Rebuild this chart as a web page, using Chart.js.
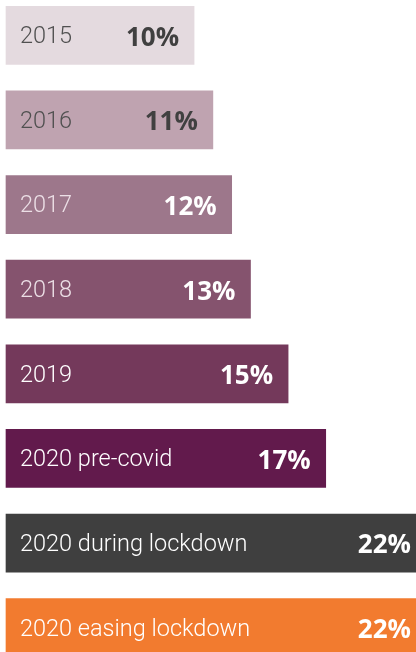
<!DOCTYPE html>
<html>
<head>
<meta charset="utf-8">
<script src="https://cdn.jsdelivr.net/npm/chart.js@4/dist/chart.umd.min.js"></script>
<style>
  html, body { margin: 0; padding: 0; background: #ffffff; overflow: hidden; }
  #wrap { position: relative; width: 416px; height: 652px; overflow: hidden; }
  #c { position: absolute; left: 0; top: -7px; }
</style>
</head>
<body>
<div id="wrap"><canvas id="c" width="416" height="677"></canvas></div>
<script>
const categories = ["2015", "2016", "2017", "2018", "2019", "2020 pre-covid", "2020 during lockdown", "2020 easing lockdown"];
const values = [10, 11, 12, 13, 15, 17, 22, 22];
const valueLabels = ["10%", "11%", "12%", "13%", "15%", "17%", "22%", "22%"];
const barColors = ["#e4dadf", "#bfa3b0", "#9d778b", "#85536e", "#74395b", "#621a4c", "#3f3f3f", "#f27b2f"];
const categoryTextColors = ["#505050", "#505050", "#ecdfe6", "#ecdfe6", "#ffffff", "#ffffff", "#ffffff", "#ffffff"];
const valueTextColors = ["#404040", "#404040", "#ffffff", "#ffffff", "#ffffff", "#ffffff", "#ffffff", "#ffffff"];

const labelPlugin = {
  id: 'barLabels',
  afterDatasetsDraw(chart) {
    const ctx = chart.ctx;
    const xs = chart.scales.x;
    const ys = chart.scales.y;
    const area = chart.chartArea;
    ctx.save();
    ctx.textBaseline = 'middle';
    categories.forEach((cat, i) => {
      const y = ys.getPixelForValue(i);
      ctx.font = '300 23.5px Roboto, "Liberation Sans", sans-serif';
      ctx.fillStyle = categoryTextColors[i];
      ctx.textAlign = 'left';
      ctx.fillText(cat, xs.getPixelForValue(0) + 14, y + 2);
      const barEnd = xs.getPixelForValue(values[i]);
      const end = barEnd > area.right ? area.right - 5 : barEnd - 15;
      ctx.font = '700 26px "Open Sans", "DejaVu Sans", sans-serif';
      ctx.fillStyle = valueTextColors[i];
      ctx.textAlign = 'right';
      ctx.fillText(valueLabels[i], end, y + 3);
    });
    ctx.restore();
  }
};

new Chart(document.getElementById('c'), {
  type: 'bar',
  data: {
    labels: categories,
    datasets: [{
      data: values,
      backgroundColor: barColors,
      borderWidth: 0,
      barThickness: 58,
      clip: false
    }]
  },
  options: {
    indexAxis: 'y',
    responsive: false,
    animation: false,
    layout: { padding: { left: 6, right: 0, top: 0, bottom: 0 } },
    plugins: { legend: { display: false }, tooltip: { enabled: false } },
    scales: {
      x: { display: false, min: 0, max: 21.8 },
      y: { display: false, offset: true }
    }
  },
  plugins: [labelPlugin]
});
</script>
</body>
</html>
